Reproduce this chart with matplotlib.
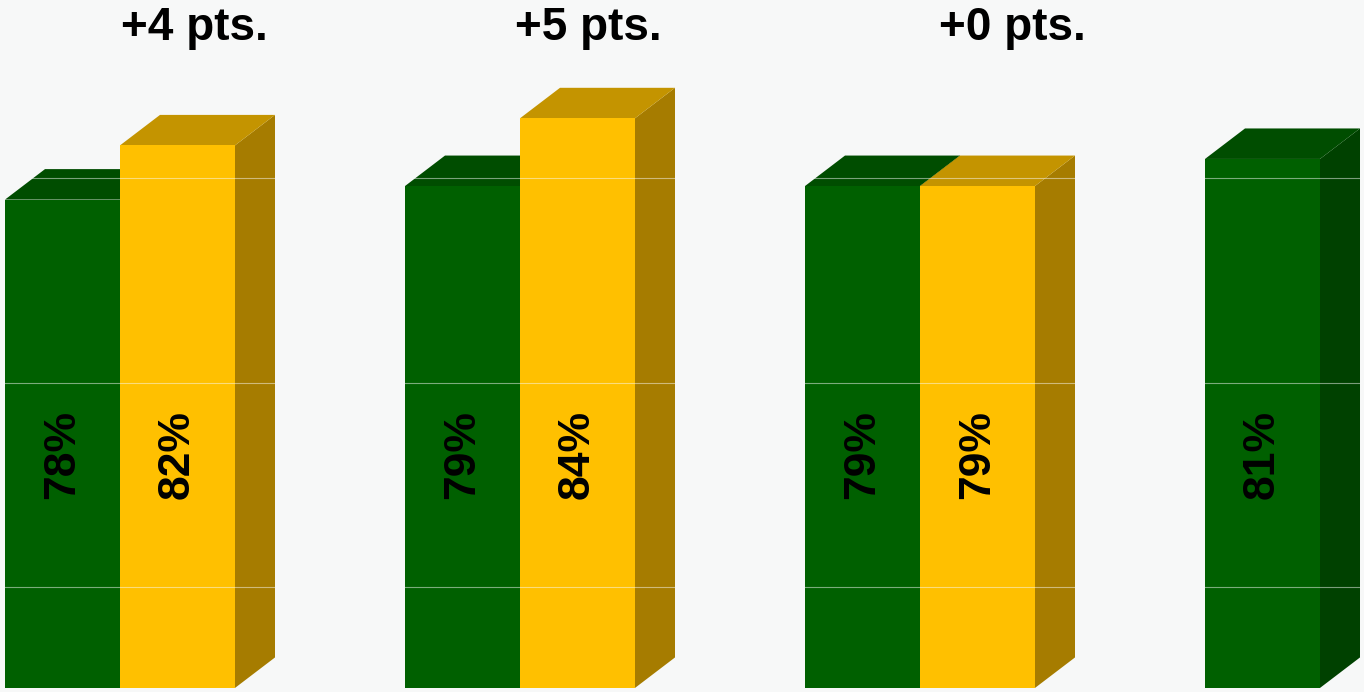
import numpy as np
import matplotlib
matplotlib.use("Agg")
import matplotlib.pyplot as plt
from matplotlib.patches import Polygon

plt.rcParams["font.family"] = ["Liberation Sans", "DejaVu Sans"]

# data
groups = ["A", "B", "C", "D"]
green_vals = [78, 79, 79, 81]
yellow_vals = [82, 84, 79, None]
diff_labels = ["+4 pts.", "+5 pts.", "+0 pts."]
diff_x = [0.185, 1.17, 2.23]
grid_levels = [49.4, 64.5, 79.6]

# styling
base = 41.96
bar_w = 0.2875
dx, dy = 0.1, 2.25
label_y = 59.2
green = ("#006000", "#004d00", "#004100")
yellow = ("#ffc000", "#c49400", "#a67c00")
bg = "#f7f8f8"


###one 3d-looking bar
def draw_bar(ax, left, value, colors, z):
    front, top, side = colors
    right = left + bar_w
    side_pts = [(right, base), (right + dx, base + dy), (right + dx, value + dy), (right, value)]
    top_pts = [(left, value), (right, value), (right + dx, value + dy), (left + dx, value + dy)]
    ax.add_patch(Polygon(side_pts, closed=True, facecolor=side, edgecolor="none", zorder=z))
    ax.add_patch(Polygon(top_pts, closed=True, facecolor=top, edgecolor="none", zorder=z + 0.1))
    ax.bar(left, value - base, bottom=base, width=bar_w, align="edge",
           color=front, edgecolor="none", zorder=z + 0.2)
    ax.text(left + bar_w / 2, label_y, f"{value}%", rotation=90, ha="center", va="center",
            fontsize=32, fontweight="bold", color="black", zorder=20)


fig = plt.figure(figsize=(13.64, 6.92), dpi=100)
fig.patch.set_facecolor(bg)
ax = fig.add_axes([0, 0, 1, 1])
ax.set_facecolor(bg)

z = 2
for i in range(len(groups)):
    draw_bar(ax, i - bar_w, green_vals[i], green, z)
    z += 1
    if yellow_vals[i] is not None:
        draw_bar(ax, i, yellow_vals[i], yellow, z)
        z += 1

# faint grid, only noticeable on the bars
for g in grid_levels:
    ax.axhline(g, color="#f8f8f8", lw=0.8, alpha=0.5, zorder=15)

for x, t in zip(diff_x, diff_labels):
    ax.text(x, 90.7, t, ha="center", va="center", fontsize=33, fontweight="bold", color="black")

ax.set_xlim(-0.3, 3.11)
ax.set_ylim(41.66, 92.73)
ax.axis("off")

fig.savefig("out.png", dpi=100, facecolor=bg)
